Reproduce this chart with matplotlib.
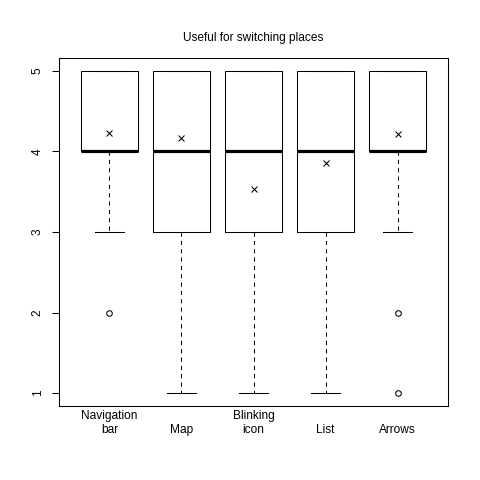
import matplotlib
matplotlib.use("Agg")
import matplotlib.pyplot as plt

plt.rcParams["font.family"] = ["Liberation Sans", "DejaVu Sans"]

# data
labels = ["Navigation\nbar", "\nMap", "Blinking\nicon", "\nList", "\nArrows"]
q1 = [4, 3, 3, 3, 4]
med = [4, 4, 4, 4, 4]
q3 = [5, 5, 5, 5, 5]
whislo = [3, 1, 1, 1, 3]
whishi = [5, 5, 5, 5, 5]
means = [4.23, 4.17, 3.54, 3.86, 4.22]
outliers = [[2], [], [], [], [2, 1]]

stats = []
for i in range(len(labels)):
    stats.append(dict(q1=q1[i], med=med[i], q3=q3[i], whislo=whislo[i],
                      whishi=whishi[i], fliers=outliers[i], mean=means[i]))

fig = plt.figure(figsize=(4.8, 4.8), dpi=100)
ax = fig.add_axes([59 / 480, 74 / 480, 389 / 480, 348 / 480])

pos = list(range(1, len(labels) + 1))
ax.bxp(stats, positions=pos, widths=0.8, showmeans=True, showfliers=True,
       patch_artist=False,
       boxprops=dict(color="black", linewidth=0.75),
       medianprops=dict(color="black", linewidth=2.3, solid_capstyle="butt"),
       whiskerprops=dict(color="black", linewidth=0.75, linestyle=(0, (4, 4))),
       capprops=dict(color="black", linewidth=0.75),
       capwidths=0.4,
       flierprops=dict(marker="o", markersize=4, markerfacecolor="none",
                       markeredgecolor="black", markeredgewidth=0.75),
       meanprops=dict(marker="x", markersize=5, markeredgecolor="black",
                      markeredgewidth=0.75))

ax.set_xlim(0.3, 5.7)
ax.set_ylim(0.84, 5.16)
ax.set_yticks([1, 2, 3, 4, 5])
ax.set_yticklabels(["1", "2", "3", "4", "5"], rotation=90, va="center")
ax.set_xticks(pos)
ax.set_xticklabels(labels, fontsize=8.6, linespacing=1.15, ha="center")
ax.tick_params(axis="x", length=0, pad=3)
ax.tick_params(axis="y", length=5, width=0.75, pad=6, labelsize=8.6)
for s in ax.spines.values():
    s.set_linewidth(0.75)

fig.text(253.5 / 480, 1 - 38 / 480, "Useful for switching places",
         ha="center", va="center", fontsize=8.6)

fig.savefig("out.png", dpi=100)
